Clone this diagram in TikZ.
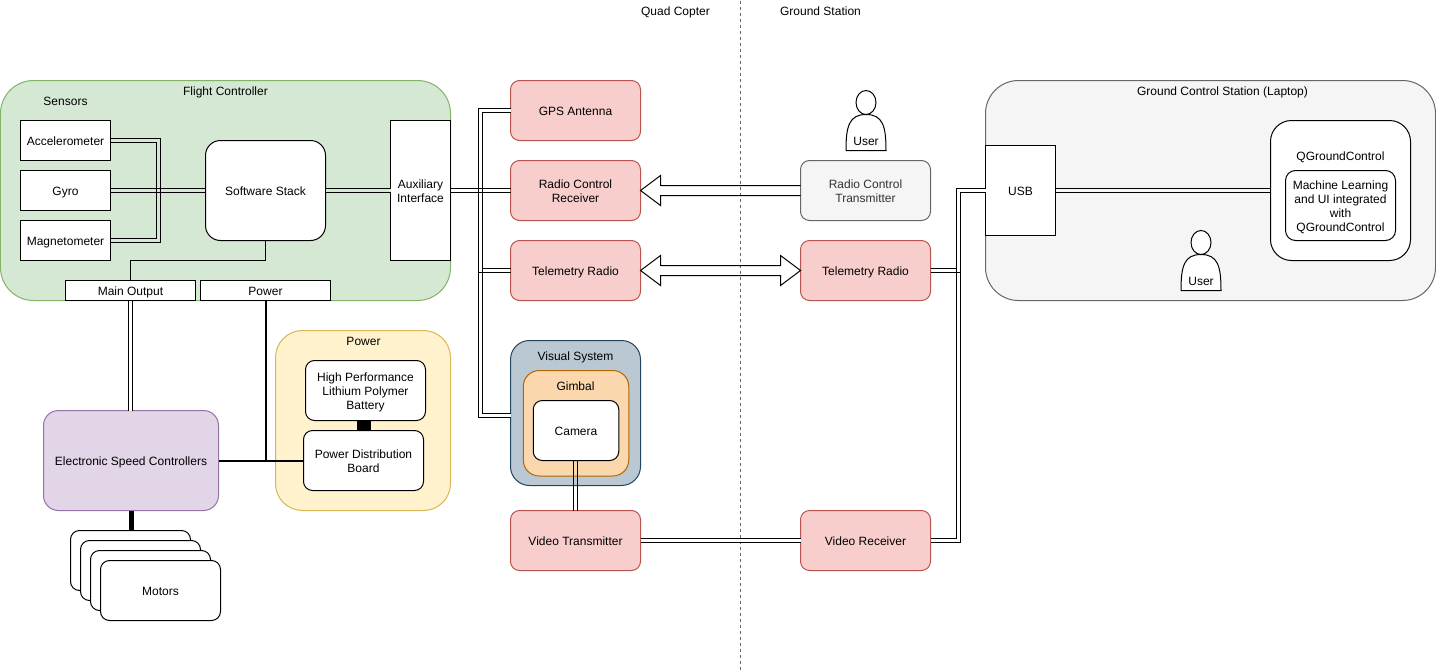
\documentclass[tikz,border=0pt]{standalone}
\usepackage{fontspec}
\setmainfont{Liberation Sans}
\newcommand{\nodestrut}{\rule[-2.5pt]{0pt}{14pt}}
\definecolor{greenfill}{HTML}{D5E8D4}
\definecolor{greenline}{HTML}{82B366}
\definecolor{redfill}{HTML}{F8CECC}
\definecolor{redline}{HTML}{B85450}
\definecolor{purplefill}{HTML}{E1D5E7}
\definecolor{purpleline}{HTML}{9673A6}
\definecolor{yellowfill}{HTML}{FFF2CC}
\definecolor{yellowline}{HTML}{D6B656}
\definecolor{orangefill}{HTML}{FAD7AC}
\definecolor{orangeline}{HTML}{B46504}
\definecolor{slatefill}{HTML}{BAC8D3}
\definecolor{slateline}{HTML}{23445D}
\definecolor{greyfill}{HTML}{F5F5F5}
\definecolor{greyline}{HTML}{666666}
\definecolor{greytext}{HTML}{333333}
\tikzset{
	every node/.style={font=\fontsize{12}{14}\selectfont, inner sep=0pt, outer sep=0pt, align=center,
		execute at begin node=\nodestrut, execute at end node=\nodestrut},
	rectbox/.style={draw, fill=white, rectangle},
	sensor/.style={rectbox, minimum width=90pt, minimum height=40pt},
	outbox/.style={rectbox, minimum width=130pt, minimum height=20pt},
	softbox/.style={draw, fill=white, rounded corners=9pt, minimum width=120pt, minimum height=60pt},
	radio/.style={draw=redline, fill=redfill, rounded corners=9pt, minimum width=130pt, minimum height=60pt},
	motor/.style={softbox, minimum width=120pt, minimum height=60pt},
	wire/.style={line width=1pt},
	link/.style={line width=1pt, double, double distance=3pt},
	heavy/.style={line width=2pt},
	blockarrow/.style={line width=1pt, line join=miter},
	person/.pic={
		\draw[line width=1pt, fill=white] (-20,30) .. controls (-20,6) and (-17,-6) .. (0,-6) .. controls (17,-6) and (20,6) .. (20,30) -- cycle;
		\draw[line width=1pt, fill=white] (0,-18) ellipse (10 and 12);
		\node (-name) at (0,20) {User};
	},
}
\begin{document}
\begin{tikzpicture}[x=1pt,y=-1pt,line width=1pt]
	\useasboundingbox (-.5,-.5) rectangle (1435.5,671.5);

	% quad copter / ground station split
	\coordinate (splittop) at (740,0);
	\coordinate (splitbottom) at (740,670);
	\draw[greyline, dash pattern=on 3pt off 3pt] (splittop) -- (splitbottom);
	\node (quadlabel) at (675,10) {Quad Copter};
	\node (groundlabel) at (820,10) {Ground Station};

	% flight controller
	\node[draw=greenline, fill=greenfill, rounded corners=33pt, minimum width=450pt, minimum height=220pt] (flight) at (225,190) {};
	\node (flightlabel) at (225,90) {Flight Controller};
	\node (sensorslabel) at (65,100) {Sensors};
	\node[sensor] (accel) at (65,140) {Accelerometer};
	\node[sensor] (gyro) at (65,190) {Gyro};
	\node[sensor] (magneto) at (65,240) {Magnetometer};
	\node[softbox, rounded corners=15pt, minimum height=100pt] (stack) at (265,190) {Software Stack};
	\node[rectbox, minimum width=60pt, minimum height=140pt] (aux) at (420,190) {\nodestrut Auxiliary\\Interface};
	\node[outbox] (mainout) at (130,290) {Main Output};
	\node[outbox] (powerout) at (265,290) {Power};

	% power
	\node[draw=yellowline, fill=yellowfill, rounded corners=27pt, minimum width=175pt, minimum height=180pt] (power) at (362.5,420) {};
	\node (powerlabel) at (363,340) {Power};
	\node[softbox] (battery) at (365,390) {\nodestrut High Performance\\Lithium Polymer\\Battery};
	\node[softbox] (board) at (363,460) {\nodestrut Power Distribution\\Board};

	\node[draw=purpleline, fill=purplefill, rounded corners=15pt, minimum width=175pt, minimum height=100pt] (esc) at (130.5,460) {Electronic Speed Controllers};

	\node[motor] (motora) at (130,560) {};
	\node[motor] (motorb) at (140,570) {};
	\node[motor] (motorc) at (150,580) {};
	\node[motor] (motord) at (160,590) {Motors};

	% radios on the quad
	\node[radio] (gps) at (575,110) {GPS Antenna};
	\node[radio] (rcrx) at (575,190) {\nodestrut Radio Control\\Receiver};
	\node[radio] (telequad) at (575,270) {Telemetry Radio};
	\node[draw=slateline, fill=slatefill, rounded corners=19pt, minimum width=130pt, minimum height=145pt] (visual) at (575,412.5) {};
	\node (visuallabel) at (575,355) {Visual System};
	\node[draw=orangeline, fill=orangefill, rounded corners=16pt, minimum width=105.5pt, minimum height=105.5pt] (gimbal) at (575.5,422.75) {};
	\node (gimballabel) at (575,385) {Gimbal};
	\node[softbox, minimum width=85.5pt] (camera) at (575.5,430) {Camera};
	\node[radio] (videotx) at (575,540) {Video Transmitter};
	\coordinate (visualin) at (510,415);

	% ground side
	\node[draw=greyline, fill=greyfill, text=greytext, rounded corners=9pt, minimum width=130pt, minimum height=60pt] (rctx) at (865,190) {\nodestrut Radio Control\\Transmitter};
	\node[radio] (teleground) at (865,270) {Telemetry Radio};
	\node[radio] (videorx) at (865,540) {Video Receiver};
	\pic (usera) at (865.5,120) {person};

	\node[draw=greyline, fill=greyfill, rounded corners=33pt, minimum width=450pt, minimum height=220pt] (station) at (1210,190) {};
	\node (stationlabel) at (1222,90) {Ground Control Station (Laptop)};
	\node[rectbox, minimum width=70pt, minimum height=90pt] (usb) at (1020,190) {USB};
	\node[draw, fill=white, rounded corners=21pt, minimum width=140pt, minimum height=140pt] (qgc) at (1340,190) {};
	\node (qgclabel) at (1340,155) {QGroundControl};
	\node[draw, fill=white, rounded corners=10pt, minimum width=110pt, minimum height=70pt] (mlbox) at (1340,205) {\nodestrut Machine Learning\\and UI integrated\\with\\QGroundControl};
	\pic (userb) at (1200.5,260) {person};

	% sensors to stack
	\coordinate (sensorbus) at (158,190);
	\draw[link, double=greenfill] (accel.east) -| (sensorbus);
	\draw[link, double=greenfill] (magneto.east) -| (sensorbus);
	\draw[wire] ([yshift=2pt]gyro.east) -- ([yshift=2pt]stack.west);
	\draw[wire] ([yshift=-2pt]gyro.east) -- ([yshift=-2pt]stack.west);
	\draw[link, double=greenfill] (stack.east) -- (aux.west);
	\draw[wire] (stack.south) -- ++(0,20) -| (mainout.north);

	% to the speed controllers and motors
	\coordinate (powerjoin) at (265,460);
	\draw[link] (mainout.south) -- (mainout.south |- esc.north);
	\draw[heavy] (powerout.south) -- (powerjoin);
	\draw[heavy] (esc.east) -- (board.west);
	\draw[line width=14pt] ([xshift=-2pt]battery.south) -- (board.north);
	\draw[line width=5pt] (esc.south) -- (esc.south |- motora.north);

	% auxiliary bus
	\draw[link] (gps.west) -- ++(-30,0) |- (visualin);
	\draw[wire] ([yshift=2pt]aux.east) -- ([yshift=2pt]rcrx.west);
	\draw[wire] ([yshift=-2pt]aux.east) -- ([yshift=-2pt]rcrx.west);
	\draw[wire] ([yshift=2pt]telequad.west) -- ++(-28,0);
	\draw[wire] ([yshift=-2pt]telequad.west) -- ++(-32,0);

	% video
	\draw[wire] ([xshift=-2.5pt]camera.south) -- ([xshift=-2pt]videotx.north);
	\draw[wire] ([xshift=1.5pt]camera.south) -- ([xshift=2pt]videotx.north);
	\draw[link] (videotx.east) -- (videorx.west);

	% to the usb port
	\draw[link] (videorx.east) -- ++(28,0) |- (usb.west);
	\draw[wire] ([yshift=2pt]teleground.east) -- ++(26,0);
	\draw[wire] ([yshift=-2pt]teleground.east) -- ++(30,0);
	\draw[wire] ([yshift=2pt]usb.east) -- ([yshift=2pt]qgc.west);
	\draw[wire] ([yshift=-2pt]usb.east) -- ([yshift=-2pt]qgc.west);

	% radio links
	\draw[blockarrow] ([yshift=5pt]rctx.west) -- ++(-140,0) -- ++(0,-10) -- (rcrx.east) -- ++(20,15) -- ++(0,-10) -- ([yshift=-5pt]rctx.west);
	\draw[blockarrow] (telequad.east) -- ++(20,-15) -- ++(0,10) -- ++(120,0) -- ++(0,-10) -- (teleground.west) -- ++(-20,15) -- ++(0,-10) -- ++(-120,0) -- ++(0,10) -- cycle;
\end{tikzpicture}
\end{document}
